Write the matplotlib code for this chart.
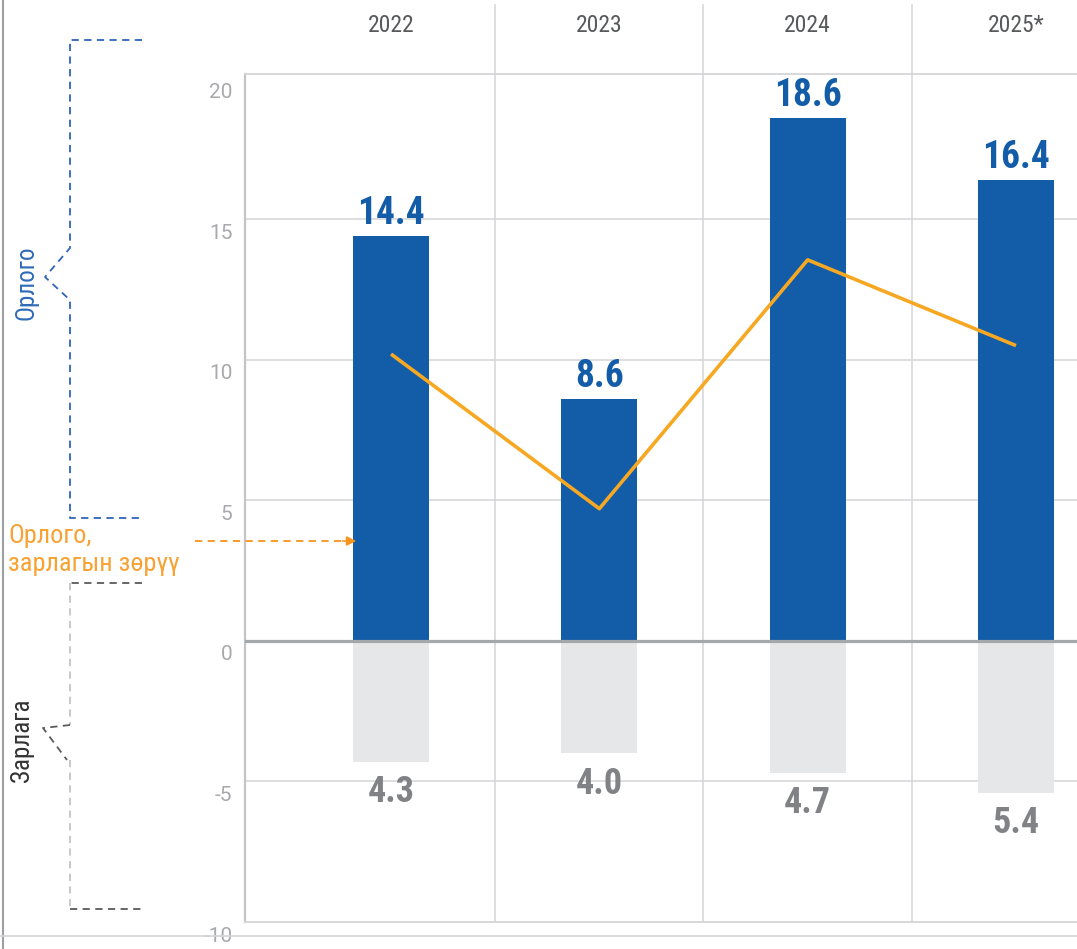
import numpy as np
import matplotlib
matplotlib.use("Agg")
import matplotlib.pyplot as plt
from matplotlib.lines import Line2D
from matplotlib.patches import FancyArrowPatch
from matplotlib.transforms import ScaledTranslation, blended_transform_factory

years = ["2022", "2023", "2024", "2025*"]
revenue = [14.4, 8.6, 18.6, 16.4]
expense = [4.3, 4.0, 4.7, 5.4]
balance = [10.2, 4.7, 13.55, 10.5]
y_ticks = [-10, -5, 0, 5, 10, 15, 20]

BLUE = "#135ca8"
GREY_BAR = "#e6e7e9"
ORANGE = "#f7a823"
NARROW = ["Roboto Condensed", "Liberation Sans Narrow", "Roboto", "DejaVu Sans"]
REGULAR = ["Roboto", "DejaVu Sans"]

W, H = 1077, 949
fig = plt.figure(figsize=(W / 100, H / 100), dpi=100)
ax = fig.add_axes([245 / W, 1 - 922 / H, (W - 245) / W, (922 - 74) / H])

x = np.arange(len(years))
ax.set_xlim(-0.701, 3.293)
ax.set_ylim(-9.78, 20.16)

# grid
for v in y_ticks:
    if v in (-10, 20):
        continue
    if v == 0:
        ax.axhline(0, color="#a5a8ab", lw=2.3, zorder=3)
    else:
        ax.axhline(v, color="#d4d5d7", lw=1.1, zorder=0)
for sep in x[:-1] + 0.5:
    ax.axvline(sep, ymin=0, ymax=1 + 69 / 848, color="#d4d5d7", lw=1.1,
               zorder=0, clip_on=False)

ax.spines["right"].set_visible(False)
ax.spines["left"].set_color("#c3c4c6")
ax.spines["left"].set_linewidth(1.6)
for side in ["top", "bottom"]:
    ax.spines[side].set_color("#d4d5d7")
    ax.spines[side].set_linewidth(1.3)

bw = 76 / 208.3
ax.bar(x, revenue, width=bw, color=BLUE, zorder=2)
ax.bar(x, [-e for e in expense], width=bw, color=GREY_BAR, zorder=2)
ax.plot(x, balance, color=ORANGE, lw=2.6, zorder=4, solid_capstyle="butt")

for xi, r in zip(x, revenue):
    ax.annotate(f"{r:.1f}", (xi, r), xytext=(0, 3), textcoords="offset points",
                ha="center", va="bottom", fontsize=27, fontweight="bold",
                color=BLUE, family=NARROW)
for xi, e in zip(x, expense):
    ax.annotate(f"{e:.1f}", (xi, -e), xytext=(0, -9), textcoords="offset points",
                ha="center", va="top", fontsize=26, fontweight="bold",
                color="#808285", family=NARROW)

# year headers
tr = blended_transform_factory(ax.transData, ax.transAxes)
for xi, yr in zip(x, years):
    ax.text(xi, 1 + 49 / 848, yr, transform=tr, ha="center", va="center",
            fontsize=17, color="#58595b", family=NARROW)

# y ticks, labels sit a little below the grid lines
ax.set_xticks([])
ax.set_yticks(y_ticks)
ax.set_yticklabels([str(v) for v in y_ticks], fontsize=15, color="#a7a9ac",
                   family=REGULAR)
ax.tick_params(axis="y", length=0, pad=9)
for lbl in ax.get_yticklabels():
    lbl.set_transform(lbl.get_transform() +
                      ScaledTranslation(0, -0.12, fig.dpi_scale_trans))


def px(xp, yp):
    return xp / W, 1 - yp / H


def fig_line(pts, color, lw=1.3, ls=(0, (4, 3))):
    xs, ys = zip(*[px(a, b) for a, b in pts])
    fig.add_artist(Line2D(xs, ys, transform=fig.transFigure, color=color,
                          lw=lw, linestyle=ls))


# frame lines of the page
fig_line([(3, 0), (3, 949)], "#9d9fa2", lw=1.5, ls="-")
fig_line([(0, 936), (1077, 936)], "#d4d5d7", lw=1.3, ls="-")

# revenue bracket
fig_line([(142, 40), (70, 40), (70, 248), (45, 277), (70, 300), (70, 518),
          (142, 518)], "#2f64b8")
fig.text(*px(27, 283), "Орлого", rotation=90, ha="center", va="center",
         fontsize=18, color="#2f6ab7", family=NARROW)

# expense bracket
fig_line([(142, 583), (70, 583)], "#5a5b5d")
fig_line([(70, 583), (70, 725)], "#c3c4c6")
fig_line([(70, 725), (43, 728), (67, 760)], "#5a5b5d")
fig_line([(70, 760), (70, 909)], "#c3c4c6")
fig_line([(70, 909), (142, 909)], "#5a5b5d")
fig.text(*px(22, 740), "Зарлага", rotation=90, ha="center", va="center",
         fontsize=18, color="#333333", family=NARROW)

# balance note
fig.text(*px(8, 550), "Орлого,\nзарлагын зөрүү", ha="left", va="center",
         fontsize=19, color="#f7a233", family=NARROW, linespacing=1.25)
fig_line([(195, 541), (348, 541)], "#f7941d")
fig.add_artist(FancyArrowPatch(
    px(340, 541), px(359, 541), transform=fig.transFigure,
    arrowstyle="-|>", mutation_scale=14, color="#f7941d", lw=1.2))

fig.savefig("out.png", dpi=100)
